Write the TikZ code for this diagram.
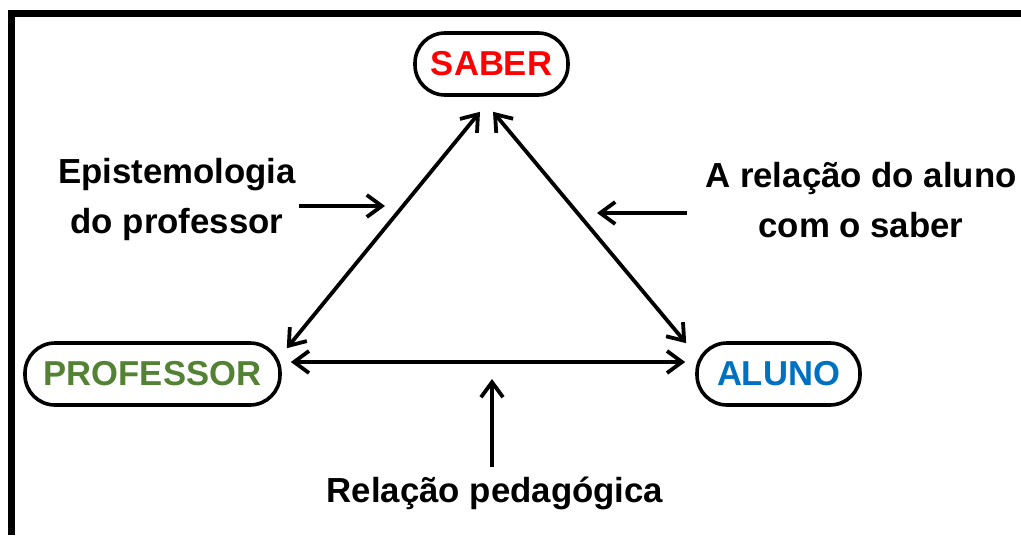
\documentclass[tikz,border=0pt]{standalone}
\usepackage{fontspec}
\setmainfont{Liberation Sans}
\usetikzlibrary{arrows.meta}
\definecolor{saberred}{HTML}{FF0000}
\definecolor{profgreen}{HTML}{548235}
\definecolor{alunoblue}{HTML}{0070C0}

\begin{document}
\begin{tikzpicture}[x=0.5pt, y=-0.5pt,
roundednode/.style={rectangle, rounded corners=15pt, draw=black, line width=1.8pt, minimum height=31pt, inner sep=0pt, font=\fontsize{17.3}{20}\selectfont\bfseries},
labeltext/.style={align=center, inner sep=0pt, font=\fontsize{17.4}{25}\selectfont\bfseries},
arrowline/.style={line width=1.9pt, >={Straight Barb[length=7.5pt,width=11pt]}},
]
\useasboundingbox (0,0) rectangle (1021,535);
%Frame
\draw[line width=3.5pt] (11.5,535) -- (11.5,13.5) -- (1021,13.5);

%Nodes
\node[roundednode, minimum width=76.5pt, text=saberred]   (saber)     at (491.5,64)  {SABER};
\node[roundednode, minimum width=127.5pt, text=profgreen] (professor) at (152.5,374) {PROFESSOR};
\node[roundednode, minimum width=81.5pt, text=alunoblue]  (aluno)     at (778.5,374) {ALUNO};
\node[labeltext] (epistemologia) at (177,200) {Epistemologia\\do professor};
\node[labeltext] (relacaoaluno)  at (861,200) {A relação do aluno\\com o saber};
\node[labeltext, anchor=base] (pedagogica) at (495,502) {Relação pedagógica};
\coordinate (epistip) at (385,206);
\coordinate (alunotip) at (597,213);
\coordinate (pedtip) at (492,379);

%Lines
\draw[arrowline, <->] ([xshift=-5.75pt,yshift=-7.5pt]saber.south) -- ([xshift=2.5pt,yshift=-3.5pt]professor.north east);
\draw[arrowline, <->] ([xshift=0.75pt,yshift=-7.5pt]saber.south) -- ([xshift=-4.5pt,yshift=-1pt]aluno.north west);
\draw[arrowline, <->] ([xshift=4.5pt,yshift=6pt]professor.east) -- ([xshift=-5pt,yshift=6pt]aluno.west);
\draw[arrowline, ->] ([xshift=1.5pt]epistemologia.east |- epistip) -- (epistip);
\draw[arrowline, ->] ([xshift=-9pt]relacaoaluno.west |- alunotip) -- (alunotip);
\draw[arrowline, ->] ([yshift=4.5pt]pedagogica.north -| pedtip) -- (pedtip);

\end{tikzpicture}
\end{document}
